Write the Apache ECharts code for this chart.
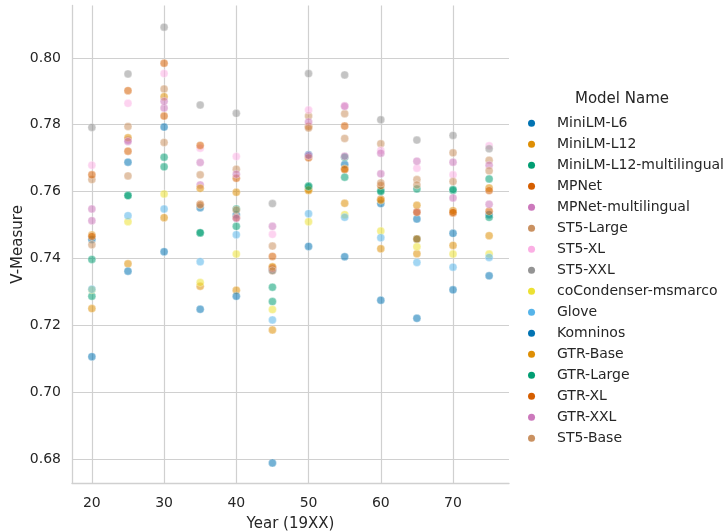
<!DOCTYPE html>
<html><head><meta charset="utf-8">
<script src="https://cdn.jsdelivr.net/npm/echarts@6/dist/echarts.min.js"></script>
<style>html,body{margin:0;padding:0;background:#fff}#c{width:727px;height:531px}</style>
</head><body><div id="c"></div>
<script>
// ---- data ----
const years = [20, 25, 30, 35, 40, 45, 50, 55, 60, 65, 70, 75];
const xTicks = [20, 30, 40, 50, 60, 70];
const yTicks = [0.68, 0.70, 0.72, 0.74, 0.76, 0.78, 0.80];
const modelNames = ['MiniLM-L6','MiniLM-L12','MiniLM-L12-multilingual','MPNet','MPNet-multilingual','ST5-Large','ST5-XL','ST5-XXL','coCondenser-msmarco','Glove','Komninos','GTR-Base','GTR-Large','GTR-XL','GTR-XXL','ST5-Base'];
const palette = ['#0173B2','#DE8F05','#029E73','#D55E00','#CC78BC','#CA9161','#FBAFE4','#949494','#ECE133','#56B4E9','#0173B2','#DE8F05','#029E73','#D55E00','#CC78BC','#CA9161'];

const miniLML6      = [0.7457, 0.7688, 0.7793, 0.7552, 0.7531, 0.7365, 0.7710, 0.7681, 0.7564, 0.7518, 0.7475, 0.7531];
const miniLML12     = [0.7470, 0.7384, 0.7522, 0.7317, 0.7305, 0.7186, 0.7603, 0.7668, 0.7429, 0.7414, 0.7439, 0.7468];
const miniLML12Multi= [0.7287, 0.7588, 0.7674, 0.7476, 0.7496, 0.7271, 0.7617, 0.7703, 0.7603, 0.7458, 0.7603, 0.7523];
const mpnet         = [0.7466, 0.7721, 0.7826, 0.7562, 0.7522, 0.7372, 0.7701, 0.7666, 0.7577, 0.7458, 0.7536, 0.7541];
const mpnetMulti    = [0.7513, 0.7754, 0.7850, 0.7620, 0.7520, 0.7370, 0.7708, 0.7706, 0.7653, 0.7540, 0.7581, 0.7562];
const st5Large      = [0.7636, 0.7795, 0.7907, 0.7650, 0.7667, 0.7437, 0.7826, 0.7833, 0.7743, 0.7636, 0.7716, 0.7694];
const st5XL         = [0.7679, 0.7864, 0.7953, 0.7730, 0.7705, 0.7472, 0.7844, 0.7857, 0.7723, 0.7670, 0.7650, 0.7737];
const st5XXL        = [0.7792, 0.7952, 0.8092, 0.7859, 0.7834, 0.7564, 0.7953, 0.7949, 0.7815, 0.7754, 0.7768, 0.7728];
const coCondenser   = [0.7306, 0.7510, 0.7593, 0.7328, 0.7413, 0.7247, 0.7510, 0.7531, 0.7482, 0.7435, 0.7413, 0.7413];
const glove         = [0.7308, 0.7528, 0.7548, 0.7390, 0.7471, 0.7216, 0.7534, 0.7523, 0.7462, 0.7388, 0.7374, 0.7403];
const komninos      = [0.7106, 0.7362, 0.7420, 0.7248, 0.7287, 0.6788, 0.7436, 0.7405, 0.7275, 0.7221, 0.7306, 0.7348];
const gtrBase       = [0.7250, 0.7761, 0.7884, 0.7610, 0.7598, 0.7375, 0.7605, 0.7565, 0.7574, 0.7559, 0.7543, 0.7611];
const gtrLarge      = [0.7397, 0.7588, 0.7703, 0.7477, 0.7548, 0.7314, 0.7615, 0.7643, 0.7600, 0.7608, 0.7606, 0.7638];
const gtrXL         = [0.7650, 0.7902, 0.7984, 0.7738, 0.7640, 0.7406, 0.7795, 0.7796, 0.7618, 0.7538, 0.7538, 0.7603];
const gtrXXL        = [0.7548, 0.7750, 0.7870, 0.7687, 0.7652, 0.7496, 0.7808, 0.7855, 0.7715, 0.7691, 0.7688, 0.7679];
const st5Base       = [0.7441, 0.7647, 0.7747, 0.7560, 0.7545, 0.7363, 0.7790, 0.7759, 0.7626, 0.7620, 0.7630, 0.7662];

const seriesValues = [miniLML6, miniLML12, miniLML12Multi, mpnet, mpnetMulti, st5Large, st5XL, st5XXL, coCondenser, glove, komninos, gtrBase, gtrLarge, gtrXL, gtrXXL, st5Base];

// ---- chart ----
const FONT = 'DejaVu Sans';
const TXT = '#262626';
const GRIDC = '#d0d0d0';

const scatterSeries = modelNames.map((name, i) => ({
  name: name,
  type: 'scatter',
  z: 3,
  symbol: 'circle',
  symbolSize: 8,
  itemStyle: { color: palette[i], opacity: 0.55, borderColor: '#ffffff', borderWidth: 0.6 },
  emphasis: { disabled: true },
  data: years.map((yr, j) => [yr, seriesValues[i][j]])
}));

const gridSeries = {
  name: '__grid',
  type: 'line',
  z: 0,
  data: [],
  silent: true,
  markLine: {
    silent: true,
    z: 0,
    symbol: ['none', 'none'],
    label: { show: false },
    emphasis: { disabled: true },
    lineStyle: { color: GRIDC, width: 1.2, type: 'solid' },
    animation: false,
    data: xTicks.map(v => ({ xAxis: v })).concat(yTicks.map(v => ({ yAxis: v })))
  }
};

const option = {
  animation: false,
  backgroundColor: '#ffffff',
  textStyle: { fontFamily: FONT },
  grid: { left: 72, top: 5.4, width: 437, height: 478, containLabel: false, outerBoundsMode: 'none' },
  xAxis: {
    type: 'value',
    min: 17.25, max: 77.75,
    name: 'Year (19XX)',
    nameLocation: 'middle',
    nameGap: 33,
    nameMoveOverlap: false,
    nameTextStyle: { color: TXT, fontSize: 15, fontFamily: FONT },
    axisLine: { show: true, onZero: false, lineStyle: { color: GRIDC, width: 1.3 } },
    axisTick: { show: false },
    splitLine: { show: false },
    axisLabel: { customValues: xTicks, color: TXT, fontSize: 14, fontFamily: FONT, margin: 13 }
  },
  yAxis: {
    type: 'value',
    min: 0.6727, max: 0.8157,
    name: 'V-Measure',
    nameLocation: 'middle',
    nameGap: 46,
    nameMoveOverlap: false,
    nameTextStyle: { color: TXT, fontSize: 15, fontFamily: FONT },
    axisLine: { show: true, onZero: false, lineStyle: { color: GRIDC, width: 1.3 } },
    axisTick: { show: false },
    splitLine: { show: false },
    axisLabel: { customValues: yTicks, color: TXT, fontSize: 14, fontFamily: FONT, margin: 11,
      formatter: v => v.toFixed(2) }
  },
  legend: {
    data: modelNames,
    orient: 'vertical',
    right: 3,
    top: 112.7,
    padding: 0,
    itemGap: 0,
    itemWidth: 41,
    itemHeight: 7,
    icon: 'circle',
    selectedMode: false,
    itemStyle: { opacity: 1, borderWidth: 0 },
    textStyle: { color: TXT, fontSize: 14, fontFamily: FONT, lineHeight: 21 }
  },
  graphic: [{
    type: 'text',
    silent: true,
    style: { x: 622, y: 98.8, text: 'Model Name', textAlign: 'center', textVerticalAlign: 'middle',
      font: '15px "DejaVu Sans"', fill: TXT }
  }],
  series: [gridSeries].concat(scatterSeries)
};

const chart = echarts.init(document.getElementById('c'), null, { renderer: 'canvas' });
chart.setOption(option);
</script>
</body></html>
